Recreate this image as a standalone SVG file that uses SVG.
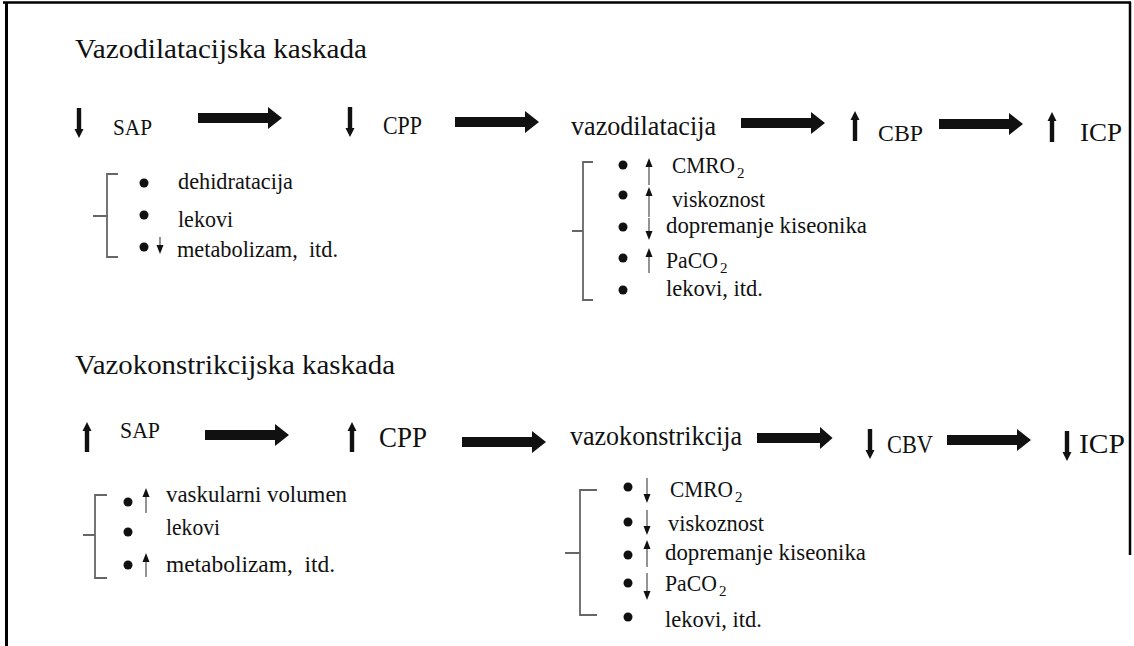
<svg xmlns="http://www.w3.org/2000/svg" xmlns:xlink="http://www.w3.org/1999/xlink" width="1134" height="646" viewBox="0 0 1134 646">
<style>
  text { font-family: "Liberation Serif", "Times New Roman", serif; fill: #111; }
  .t22 { font-size: 23.5px; }
  .title { font-size: 28px; }
  .brk { fill: none; stroke: #666; stroke-width: 1.8; }
  .dot { fill: #111; }
  .shaft { stroke: #888; stroke-width: 1.8; }
  .border { stroke: #000; fill: none; }
</style>
<defs>
  <path id="thickDown" d="M-2.2,-15 H2.2 V6 H4.5 L0,15 L-4.5,6 H-2.2 Z" fill="#111"/>
  <path id="thickUp" d="M-2.2,15 H2.2 V-6 H4.5 L0,-15 L-4.5,-6 H-2.2 Z" fill="#111"/>
  <path id="bigArrow" d="M0,-5 H70 V-11 L84,0 L70,11 V5 H0 Z" fill="#111"/>
  <path id="headUp" d="M0,0 L3.5,9 L-3.5,9 Z" fill="#111"/>
  <path id="headDown" d="M0,0 L3.5,-9 L-3.5,-9 Z" fill="#111"/>
</defs>
<rect width="1134" height="646" fill="#fff"/>
<g id="border">
  <line class="border" x1="3" y1="2.5" x2="1131" y2="2.5" stroke-width="2.5"/>
  <line class="border" x1="6.5" y1="2" x2="6.5" y2="646" stroke-width="3"/>
  <line class="border" x1="1130" y1="2" x2="1130" y2="555" stroke-width="2.5"/>
</g>
<g id="title1"><text class="title" x="75" y="58" textLength="292" lengthAdjust="spacingAndGlyphs">Vazodilatacijska kaskada</text></g>
<g id="title2"><text class="title" x="75" y="374" textLength="320" lengthAdjust="spacingAndGlyphs">Vazokonstrikcijska kaskada</text></g>

<g id="connectors">
  <use xlink:href="#bigArrow" transform="translate(198,118)"/>
  <use xlink:href="#bigArrow" transform="translate(455,122)"/>
  <use xlink:href="#bigArrow" transform="translate(741,123)"/>
  <use xlink:href="#bigArrow" transform="translate(939,124)"/>
  <use xlink:href="#bigArrow" transform="translate(205,435)"/>
  <use xlink:href="#bigArrow" transform="translate(462,442)"/>
  <use xlink:href="#bigArrow" transform="translate(757,438) scale(0.9,1)"/>
  <use xlink:href="#bigArrow" transform="translate(947,440)"/>
</g>

<!-- Row 1 -->
<g id="sap1"><use xlink:href="#thickDown" transform="translate(79,123)"/><text x="113" y="135" font-size="24" textLength="39" lengthAdjust="spacingAndGlyphs">SAP</text></g>
<g id="cpp1"><use xlink:href="#thickDown" transform="translate(350,122)"/><text x="383" y="134" font-size="25" textLength="39" lengthAdjust="spacingAndGlyphs">CPP</text></g>
<g id="vazodilatacija"><text x="571" y="135" font-size="27" textLength="145" lengthAdjust="spacingAndGlyphs">vazodilatacija</text></g>
<g id="cbp"><use xlink:href="#thickUp" transform="translate(855,126)"/><text x="878" y="141" font-size="24" textLength="45" lengthAdjust="spacingAndGlyphs">CBP</text></g>
<g id="icp1"><use xlink:href="#thickUp" transform="translate(1052,127)"/><text x="1080" y="141" font-size="25" textLength="42" lengthAdjust="spacingAndGlyphs">ICP</text></g>

<g id="list1">
  <path class="brk" d="M118,174 H107 V257 H118 M107,216 H93"/>
  <circle class="dot" cx="144" cy="183" r="4.5"/>
  <circle class="dot" cx="144" cy="215" r="4.5"/>
  <circle class="dot" cx="144" cy="247" r="4.5"/>
  <line class="shaft" x1="160" y1="237" x2="160" y2="246"/><use xlink:href="#headDown" transform="translate(160,254)"/>
  <text class="t22" x="178" y="189" textLength="115" lengthAdjust="spacingAndGlyphs">dehidratacija</text>
  <text class="t22" x="178" y="227" textLength="55" lengthAdjust="spacingAndGlyphs">lekovi</text>
  <text class="t22" x="177" y="257" textLength="161" lengthAdjust="spacingAndGlyphs" xml:space="preserve">metabolizam,  itd.</text>
</g>

<g id="list2">
  <path class="brk" d="M593,162 H583 V300 H593 M583,231 H572"/>
  <circle class="dot" cx="623" cy="165" r="4.5"/>
  <circle class="dot" cx="623" cy="195" r="4.5"/>
  <circle class="dot" cx="623" cy="227" r="4.5"/>
  <circle class="dot" cx="623" cy="258" r="4.5"/>
  <circle class="dot" cx="623" cy="290" r="4.5"/>
  <line class="shaft" x1="649" y1="165" x2="649" y2="185"/><use xlink:href="#headUp" transform="translate(649,158)"/>
  <line class="shaft" x1="649" y1="194" x2="649" y2="217"/><use xlink:href="#headUp" transform="translate(649,187)"/>
  <line class="shaft" x1="649" y1="218" x2="649" y2="233"/><use xlink:href="#headDown" transform="translate(649,240)"/>
  <line class="shaft" x1="649" y1="255" x2="649" y2="273"/><use xlink:href="#headUp" transform="translate(649,248)"/>
  <text class="t22" x="672" y="173"><tspan textLength="63" lengthAdjust="spacingAndGlyphs">CMRO</tspan><tspan font-size="15" dx="2" dy="5">2</tspan></text>
  <text class="t22" x="672" y="207" textLength="93" lengthAdjust="spacingAndGlyphs">viskoznost</text>
  <text class="t22" x="666" y="233" textLength="201" lengthAdjust="spacingAndGlyphs">dopremanje kiseonika</text>
  <text class="t22" x="666" y="268"><tspan textLength="52" lengthAdjust="spacingAndGlyphs">PaCO</tspan><tspan font-size="15" dx="2" dy="5">2</tspan></text>
  <text class="t22" x="666" y="296" textLength="97" lengthAdjust="spacingAndGlyphs">lekovi, itd.</text>
</g>

<!-- Row 2 -->
<g id="sap2"><use xlink:href="#thickUp" transform="translate(87,437)"/><text x="120" y="438" font-size="24" textLength="40" lengthAdjust="spacingAndGlyphs">SAP</text></g>
<g id="cpp2"><use xlink:href="#thickUp" transform="translate(352,437)"/><text x="379" y="447" font-size="29" textLength="48" lengthAdjust="spacingAndGlyphs">CPP</text></g>
<g id="vazokonstrikcija"><text x="570" y="445" font-size="27" textLength="172" lengthAdjust="spacingAndGlyphs">vazokonstrikcija</text></g>
<g id="cbv"><use xlink:href="#thickDown" transform="translate(870,444)"/><text x="887" y="453" font-size="25" textLength="46" lengthAdjust="spacingAndGlyphs">CBV</text></g>
<g id="icp2"><use xlink:href="#thickDown" transform="translate(1067,446)"/><text x="1079" y="453" font-size="27" textLength="46" lengthAdjust="spacingAndGlyphs">ICP</text></g>

<g id="list3">
  <path class="brk" d="M107,495 H95 V578 H107 M95,535 H83"/>
  <circle class="dot" cx="128" cy="502" r="4.5"/>
  <circle class="dot" cx="128" cy="532" r="4.5"/>
  <circle class="dot" cx="128" cy="565" r="4.5"/>
  <line class="shaft" x1="146" y1="495" x2="146" y2="513"/><use xlink:href="#headUp" transform="translate(146,488)"/>
  <line class="shaft" x1="146" y1="560" x2="146" y2="577"/><use xlink:href="#headUp" transform="translate(146,553)"/>
  <text class="t22" x="166" y="502" textLength="181" lengthAdjust="spacingAndGlyphs">vaskularni volumen</text>
  <text class="t22" x="166" y="535" textLength="54" lengthAdjust="spacingAndGlyphs">lekovi</text>
  <text class="t22" x="166" y="572" textLength="169" lengthAdjust="spacingAndGlyphs" xml:space="preserve">metabolizam,  itd.</text>
</g>

<g id="list4">
  <path class="brk" d="M597,490 H580 V615 H597 M580,553 H565"/>
  <circle class="dot" cx="628" cy="487" r="4.5"/>
  <circle class="dot" cx="628" cy="522" r="4.5"/>
  <circle class="dot" cx="628" cy="555" r="4.5"/>
  <circle class="dot" cx="628" cy="583" r="4.5"/>
  <circle class="dot" cx="628" cy="617" r="4.5"/>
  <line class="shaft" x1="647" y1="478" x2="647" y2="496"/><use xlink:href="#headDown" transform="translate(647,503)"/>
  <line class="shaft" x1="647" y1="510" x2="647" y2="528"/><use xlink:href="#headDown" transform="translate(647,535)"/>
  <line class="shaft" x1="647" y1="547" x2="647" y2="567"/><use xlink:href="#headUp" transform="translate(647,540)"/>
  <line class="shaft" x1="647" y1="573" x2="647" y2="593"/><use xlink:href="#headDown" transform="translate(647,600)"/>
  <text class="t22" x="670" y="497"><tspan textLength="63" lengthAdjust="spacingAndGlyphs">CMRO</tspan><tspan font-size="15" dx="2" dy="5">2</tspan></text>
  <text class="t22" x="668" y="531" textLength="96" lengthAdjust="spacingAndGlyphs">viskoznost</text>
  <text class="t22" x="665" y="560" textLength="201" lengthAdjust="spacingAndGlyphs">dopremanje kiseonika</text>
  <text class="t22" x="665" y="591"><tspan textLength="52" lengthAdjust="spacingAndGlyphs">PaCO</tspan><tspan font-size="15" dx="2" dy="5">2</tspan></text>
  <text class="t22" x="665" y="627" textLength="97" lengthAdjust="spacingAndGlyphs">lekovi, itd.</text>
</g>
</svg>
